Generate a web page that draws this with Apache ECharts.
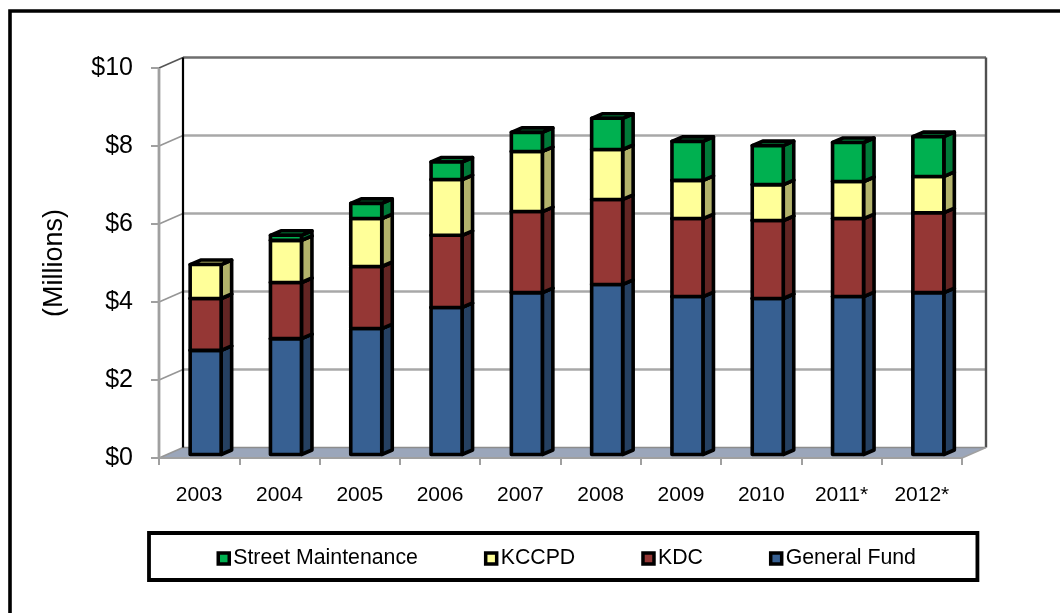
<!DOCTYPE html>
<html><head><meta charset="utf-8">
<style>html,body{margin:0;padding:0;background:#fff}#c{width:1060px;height:613px}</style>
<script src="https://cdn.jsdelivr.net/npm/echarts@6/dist/echarts.min.js"></script>
</head><body><div id="c"></div>
<script>
const categories = ['2003','2004','2005','2006','2007','2008','2009','2010','2011*','2012*'];
const generalFund = [2.67,2.97,3.23,3.77,4.15,4.36,4.05,4.00,4.05,4.15];
const kdc = [1.33,1.44,1.59,1.85,2.08,2.18,2.00,2.00,2.00,2.05];
const kccpd = [0.87,1.08,1.23,1.43,1.54,1.28,0.98,0.92,0.95,0.93];
const streetMaintenance = [0,0.13,0.39,0.45,0.49,0.80,1.00,1.00,1.00,1.02];
const yTicks = [0,2,4,6,8,10];

const FONT = '"Liberation Sans", Arial, sans-serif';
const DX = 24, DY = -10.5;           // wall depth
const BAR_DX = 10.5, BAR_DY = -4.5;  // bar depth
const OFF_X = 6.5, OFF_Y = -3.5;     // bar placed inside the floor depth
const BAR_W = 31;

function stacked(vals, below) {
  return vals.map((v, i) => [i, below[i], below[i] + v]);
}
const zero = categories.map(() => 0);
const s1 = stacked(generalFund, zero);
const s2 = stacked(kdc, s1.map(d => d[2]));
const s3 = stacked(kccpd, s2.map(d => d[2]));
const s4 = stacked(streetMaintenance, s3.map(d => d[2]));

function boxSeries(name, data, front, side, top) {
  return {
    name, type: 'custom', data, coordinateSystem: 'cartesian2d', z: 5,
    encode: {x: 0, y: [1, 2]}, clip: false,
    itemStyle: {color: front, borderColor: '#000', borderWidth: 3},
    renderItem(params, api) {
      if (api.value(2) - api.value(1) <= 0) return {type: 'group', children: []};
      const b = api.coord([api.value(0), api.value(1)]);
      const t = api.coord([api.value(0), api.value(2)]);
      const x0 = b[0] - BAR_W / 2 + OFF_X, x1 = x0 + BAR_W;
      const yb = b[1] + OFF_Y, yt = t[1] + OFF_Y;
      const st = (fill) => ({fill, stroke: '#000', lineWidth: 3.6, lineJoin: 'round'});
      return {type: 'group', children: [
        {type: 'polygon', shape: {points: [[x1, yb], [x1 + BAR_DX, yb + BAR_DY], [x1 + BAR_DX, yt + BAR_DY], [x1, yt]]}, style: st(side)},
        {type: 'polygon', shape: {points: [[x0, yt], [x1, yt], [x1 + BAR_DX, yt + BAR_DY], [x0 + BAR_DX, yt + BAR_DY]]}, style: st(top)},
        {type: 'rect', shape: {x: x0, y: yt, width: BAR_W, height: yb - yt}, style: st(front)}
      ]};
    }
  };
}

const wallSeries = {
  type: 'custom', data: [[0, 0]], coordinateSystem: 'cartesian2d', z: 1, silent: true, clip: false,
  legendHoverLink: false, tooltip: {show: false},
  encode: {x: 0, y: 1},
  renderItem(params, api) {
    const cs = params.coordSys;
    const xL = cs.x, xR = cs.x + cs.width;
    const y = v => api.coord([0, v])[1];
    const line = (x1, y1, x2, y2, stroke, lineWidth) =>
      ({type: 'line', shape: {x1, y1, x2, y2}, style: {stroke, lineWidth}});
    const kids = [];
    kids.push({type: 'polygon',
      shape: {points: [[xL, y(0)], [xR, y(0)], [xR + DX, y(0) + DY], [xL + DX, y(0) + DY]]},
      style: {fill: '#9BA6BA', stroke: 'none'}});
    yTicks.forEach(v => {
      const c = v === 10 ? '#6e6e6e' : '#a8a8a8';
      kids.push(line(xL, y(v), xL + DX, y(v) + DY, v === 10 ? '#555' : '#969696', 1.6));
      if (v > 0) kids.push(line(xL + DX, y(v) + DY, xR + DX, y(v) + DY, c, 2.4));
    });
    kids.push(line(xL + DX, y(0) + DY, xR + DX, y(0) + DY, '#8c8c8c', 1.5));
    kids.push(line(xL, y(0), xL, y(10), '#a0a0a0', 2.8));
    kids.push(line(xL + DX, y(0) + DY, xL + DX, y(10) + DY, '#000', 2.2));
    kids.push(line(xR + DX, y(0) + DY, xR + DX, y(10) + DY, '#505050', 2.4));
    kids.push(line(xR, y(0), xR + DX, y(0) + DY, '#a0a0a0', 1.5));
    return {type: 'group', children: kids};
  }
};

const chart = echarts.init(document.getElementById('c'), null, {renderer: 'canvas'});
chart.setOption({
  animation: false,
  backgroundColor: '#fff',
  grid: {left: 159, right: 98, top: 68, bottom: 155, containLabel: false},
  graphic: [
    {type: 'polyline', silent: true, z: 0,
     shape: {points: [[10, 613], [10, 11], [1060, 11]]},
     style: {fill: 'none', stroke: '#000', lineWidth: 3.6}}
  ],
  legend: {
    left: 149, top: 533, orient: 'horizontal',
    data: ['Street Maintenance', 'KCCPD', 'KDC', 'General Fund'],
    icon: 'rect', itemWidth: 11, itemHeight: 11, itemGap: 66,
    padding: [15, 61.5, 11, 67.5],
    borderColor: '#000', borderWidth: 3.8, backgroundColor: '#fff',
    selectedMode: false,
    itemStyle: {borderColor: '#000', borderWidth: 3.5},
    textStyle: {fontFamily: FONT, fontSize: 21.3, color: '#000', padding: [0, 0, 0, -1]}
  },
  xAxis: {
    type: 'category', data: categories, z: 2,
    axisLine: {show: true, lineStyle: {color: '#a0a0a0', width: 2}},
    axisTick: {show: true, alignWithLabel: false, length: 7, lineStyle: {color: '#a0a0a0', width: 2}},
    axisLabel: {fontFamily: FONT, fontSize: 21, color: '#000', margin: 27, interval: 0},
    splitLine: {show: false}
  },
  yAxis: {
    type: 'value', min: 0, max: 10, interval: 2, z: 2,
    name: '(Millions)', nameLocation: 'middle', nameGap: 91, nameRotate: 90,
    nameTextStyle: {fontFamily: FONT, fontSize: 27, color: '#000'},
    axisLine: {show: false},
    axisTick: {show: true, length: 8, lineStyle: {color: '#a0a0a0', width: 2}},
    axisLabel: {fontFamily: FONT, fontSize: 25, color: '#000', margin: 26, padding: [6, 0, 0, 0], formatter: v => '$' + v},
    splitLine: {show: false}
  },
  series: [
    wallSeries,
    boxSeries('General Fund', s1, '#376092', '#254061', '#2f5480'),
    boxSeries('KDC', s2, '#953735', '#632523', '#7d2e2c'),
    boxSeries('KCCPD', s3, '#FFFF99', '#B3B36B', '#C8C86F'),
    boxSeries('Street Maintenance', s4, '#00B050', '#007A38', '#009A45')
  ]
});
</script></body></html>
